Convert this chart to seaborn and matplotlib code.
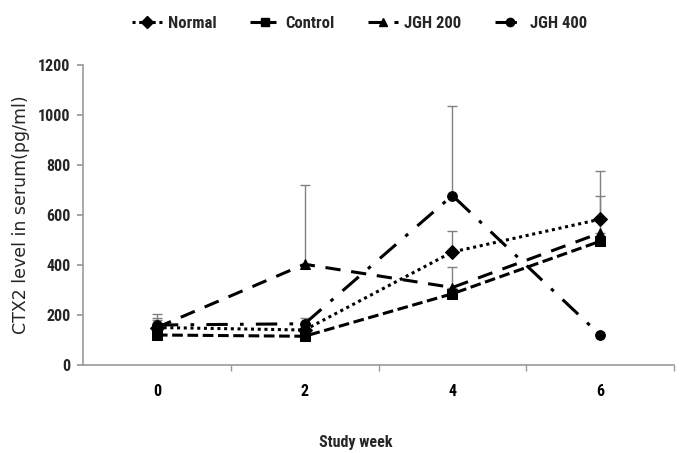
import numpy as np
import pandas as pd
import seaborn as sns
import matplotlib
matplotlib.use("Agg")
import matplotlib.pyplot as plt
from matplotlib import font_manager as fm
from matplotlib.lines import Line2D

weeks = [0, 2, 4, 6]
groups = ["Normal", "Control", "JGH 200", "JGH 400"]
normal = [150, 140, 452, 583]
control = [120, 115, 285, 495]
jgh200 = [150, 403, 310, 528]
jgh400 = [160, 165, 678, 120]
normal_err = [40, 30, 85, 195]
control_err = [0, 0, 0, 0]
jgh200_err = [30, 318, 82, 148]
jgh400_err = [45, 25, 360, 0]

sns.set_theme(style="white")
avail = {f.name for f in fm.fontManager.ttflist}
cands = ["Liberation Sans Narrow", "Roboto Condensed", "Arimo Narrow", "Archivo Narrow",
         "Asap Condensed", "Liberation Sans"]
bold_font = [f for f in cands if f in avail][:1] + ["DejaVu Sans"]
plt.rcParams["font.family"] = ["Liberation Sans", "DejaVu Sans"]

values = {"Normal": normal, "Control": control, "JGH 200": jgh200, "JGH 400": jgh400}
errs = {"Normal": normal_err, "Control": control_err, "JGH 200": jgh200_err, "JGH 400": jgh400_err}
rows = []
for g in groups:
    for w, v in zip(weeks, values[g]):
        rows.append({"week": w, "value": v, "group": g})
df = pd.DataFrame(rows)

fig = plt.figure(figsize=(6.84, 4.53), dpi=100)
ax = fig.add_axes([83 / 684, 1 - 365 / 453, (674 - 83) / 684, 300 / 453])

for g in groups:
    e = np.array(errs[g])
    v = np.array(values[g])
    mask = e > 0
    ax.errorbar(np.array(weeks)[mask], v[mask], yerr=[np.zeros(mask.sum()), e[mask]],
                fmt="none", ecolor="#808080", elinewidth=1.0, capsize=3.5, capthick=1.0, zorder=1)

dashes = {"Normal": (1, 1.2), "Control": (3.5, 1.5), "JGH 200": (5, 3.5), "JGH 400": (7, 4, 1.2, 4)}
markers = {"Normal": "D", "Control": "s", "JGH 200": "^", "JGH 400": "o"}
sns.lineplot(data=df, x="week", y="value", hue="group", style="group",
             palette={g: "black" for g in groups}, dashes=dashes, markers=markers,
             markersize=7, linewidth=2.2, markeredgecolor="black", ax=ax, legend=False, zorder=3)

ax.set_xlim(-1, 7)
ax.set_ylim(0, 1200)
ax.set_xticks(weeks)
ax.set_xticklabels([str(w) for w in weeks], fontfamily=bold_font, fontweight="bold", fontsize=11.5)
ax.set_xticks([1, 3, 5, 7], minor=True)
yt = [0, 200, 400, 600, 800, 1000, 1200]
ax.set_yticks(yt)
ax.set_yticklabels([str(t) for t in yt], fontfamily=bold_font, fontweight="bold", fontsize=11.5)
ax.tick_params(axis="x", which="major", length=0, pad=14, colors="black")
ax.tick_params(axis="x", which="minor", length=4, color="#999999", direction="out", bottom=True)
ax.tick_params(axis="y", length=4, color="#999999", direction="out", left=True, pad=5)
for s in ["top", "right"]:
    ax.spines[s].set_visible(False)
for s in ["left", "bottom"]:
    ax.spines[s].set_color("#999999")
    ax.spines[s].set_linewidth(1.2)

ax.set_xlabel("Study week", fontfamily=bold_font, fontweight="bold", fontsize=11.5)
ax.xaxis.set_label_coords(0.462, -70 / 300)
ax.set_ylabel("CTX2 level in serum(pg/ml)", fontfamily=["DejaVu Sans"], fontsize=12.5, labelpad=6)

handles = [Line2D([0], [0], color="black", lw=2.2, dashes=dashes[g], marker=markers[g],
                  markersize=6) for g in groups]
fig.legend(handles, groups, loc="center", bbox_to_anchor=(0.526, 1 - 23 / 453), ncol=4,
           frameon=False, prop={"family": bold_font, "weight": "bold", "size": 12},
           handlelength=1.8, columnspacing=2.0, handletextpad=0.35)

fig.savefig("out.png", dpi=100)
